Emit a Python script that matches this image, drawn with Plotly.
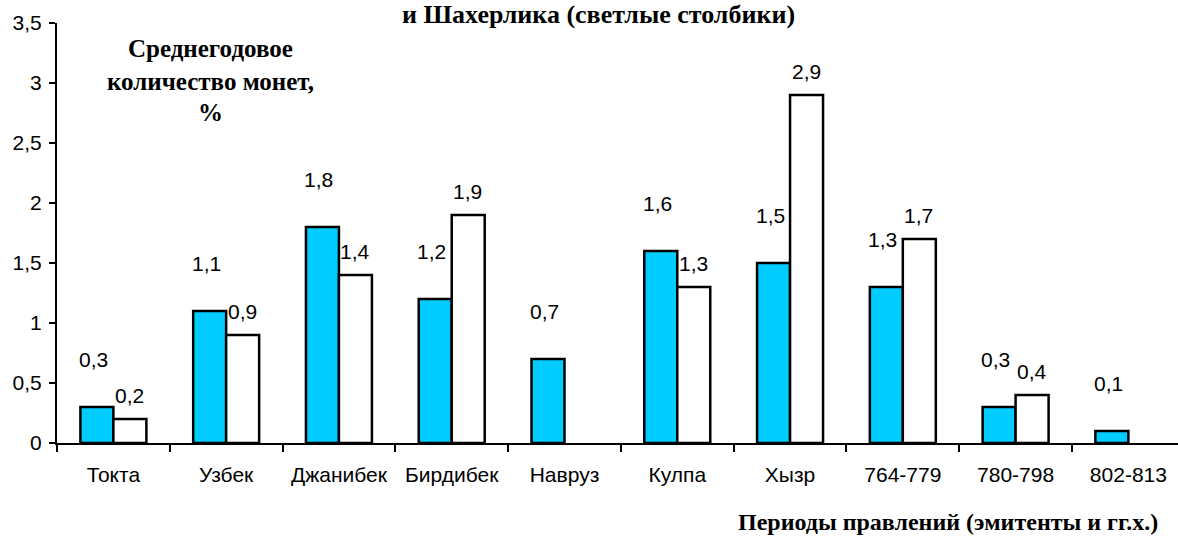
import plotly.graph_objects as go

categories = ["Токта", "Узбек", "Джанибек", "Бирдибек", "Навруз",
              "Кулпа", "Хызр", "764-779", "780-798", "802-813"]
blue_values = [0.3, 1.1, 1.8, 1.2, 0.7, 1.6, 1.5, 1.3, 0.3, 0.1]
white_values = [0.2, 0.9, 1.4, 1.9, None, 1.3, 2.9, 1.7, 0.4, None]
y_ticks = [0, 0.5, 1, 1.5, 2, 2.5, 3, 3.5]

title_text = "и Шахерлика (светлые столбики)"
ylabel_lines = ["Среднегодовое", "количество монет,", "%"]
xlabel_text = "Периоды правлений (эмитенты и гг.х.)"

W, H = 1178, 539
ML, MR, MT, MB = 57, 0, 23, 96
PH = H - MT - MB
PW = W - ML - MR

SANS = "Liberation Sans, Arial, sans-serif"
SERIF = "Liberation Serif, Times New Roman, serif"


def fmt(v):
    return f"{v:.1f}".replace(".", ",")


def py(pix):  # pixel y from top -> paper
    return (H - MB - pix) / PH


def px(pix):
    return (pix - ML) / PW


fig = go.Figure()
fig.add_trace(go.Bar(x=categories, y=blue_values, name="blue",
                     marker=dict(color="#00CCFF", line=dict(color="black", width=2.5))))
fig.add_trace(go.Bar(x=categories, y=white_values, name="white",
                     marker=dict(color="white", line=dict(color="black", width=2.5))))

annotations = []
for c, v in zip(categories, blue_values):
    if v is not None:
        annotations.append(dict(x=c, y=v, xref="x", yref="y", text=fmt(v),
                                showarrow=False, xshift=-20, yshift=48,
                                yanchor="middle",
                                font=dict(family=SANS, size=21, color="black")))
for c, v in zip(categories, white_values):
    if v is not None:
        annotations.append(dict(x=c, y=v, xref="x", yref="y", text=fmt(v),
                                showarrow=False, xshift=16, yshift=24,
                                yanchor="middle",
                                font=dict(family=SANS, size=21, color="black")))

annotations.append(dict(x=px(598), y=py(14), xref="paper", yref="paper",
                        text="<b>" + title_text + "</b>", showarrow=False,
                        xanchor="center", yanchor="middle",
                        font=dict(family=SERIF, size=26, color="black")))
for line, yy in zip(ylabel_lines, [48, 82, 112]):
    annotations.append(dict(x=px(210), y=py(yy), xref="paper", yref="paper",
                            text="<b>" + line + "</b>", showarrow=False,
                            xanchor="center", yanchor="middle",
                            font=dict(family=SERIF, size=25, color="black")))
annotations.append(dict(x=px(948), y=py(522), xref="paper", yref="paper",
                        text="<b>" + xlabel_text + "</b>", showarrow=False,
                        xanchor="center", yanchor="middle",
                        font=dict(family=SERIF, size=24, color="black")))

fig.update_layout(
    width=W, height=H,
    margin=dict(l=ML, r=MR, t=MT, b=MB, pad=0),
    paper_bgcolor="white", plot_bgcolor="white",
    barmode="group", bargap=0.415, bargroupgap=0,
    showlegend=False,
    separators=", ",
    font=dict(family=SANS, size=21, color="black"),
    annotations=annotations,
    xaxis=dict(type="category", range=[-0.5, 9.44],
               showline=True, linecolor="black", linewidth=2,
               ticks="outside", tickson="boundaries", ticklen=7,
               tickwidth=2, tickcolor="black", showgrid=False,
               ticklabelstandoff=12,
               tickfont=dict(family=SANS, size=21, color="black")),
    yaxis=dict(range=[0, 3.5], tickvals=y_ticks,
               showline=True, linecolor="black", linewidth=2,
               ticks="outside", ticklen=6, tickwidth=2, tickcolor="black",
               showgrid=False, zeroline=False, ticklabelstandoff=3,
               tickfont=dict(family=SANS, size=21, color="black")),
)

fig.write_html("out.html", config={"displayModeBar": False},
               post_script="document.body.style.margin='0';document.body.style.overflow='hidden';")
